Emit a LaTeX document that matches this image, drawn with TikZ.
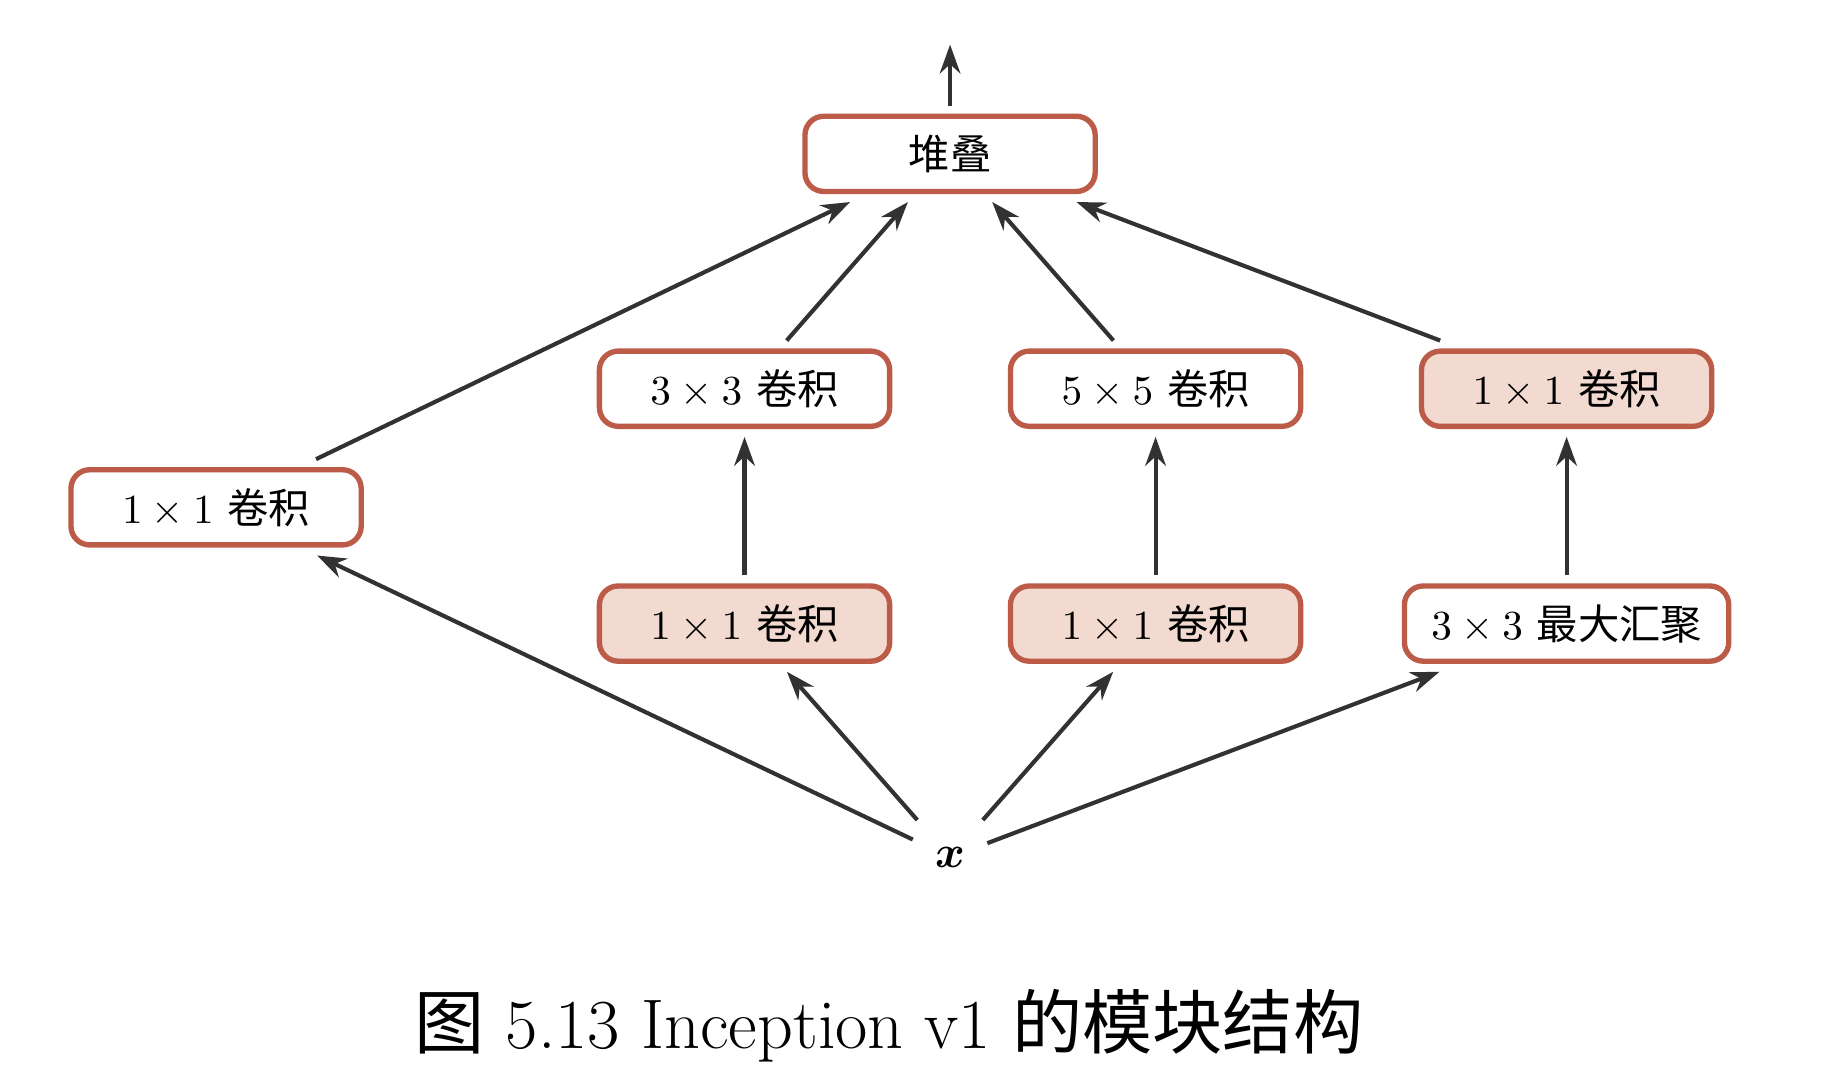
\documentclass[tikz,border=0pt]{standalone}
\usepackage{amsmath,amssymb,bm}
\usepackage{fontspec}
\usetikzlibrary{arrows.meta}
\newfontfamily\cjk{Noto Sans CJK SC}
\definecolor{bd}{RGB}{188,92,72}
\definecolor{fl}{RGB}{242,218,208}
\definecolor{ar}{RGB}{50,50,50}
\begin{document}
\begin{tikzpicture}[x=0.01cm,y=-0.01cm,
  box/.style={draw=bd,line width=1.3pt,rounded corners=0.16cm,minimum width=2.47cm,minimum height=0.64cm,inner sep=0pt,outer sep=0.09cm,font=\fontsize{10pt}{12pt}\selectfont},
  hl/.style={box,fill=fl},
  arr/.style={draw=ar,line width=1pt,-{Stealth[length=7pt,width=5pt]}}]
\useasboundingbox (0,0) rectangle (1560,927);
\node[box] (top) at (809,131) {\cjk 堆叠};
\coordinate (out) at (809,38);
\node[box] (l) at (184,432) {$1\times1$ {\cjk 卷积}};
\node[box] (a1) at (634,331) {$3\times3$ {\cjk 卷积}};
\node[box] (b1) at (984,331) {$5\times5$ {\cjk 卷积}};
\node[hl] (c1) at (1334,331) {$1\times1$ {\cjk 卷积}};
\node[hl] (a2) at (634,531) {$1\times1$ {\cjk 卷积}};
\node[hl] (b2) at (984,531) {$1\times1$ {\cjk 卷积}};
\node[box,minimum width=2.76cm] (c2) at (1334,531) {$3\times3$ {\cjk 最大汇聚}};
\node[minimum size=0.62cm,inner sep=0pt,font=\fontsize{11pt}{12pt}\selectfont] (x) at (809,730) {$\bm{x}$};
\node[font=\fontsize{17pt}{20pt}\selectfont] (cap) at (757,873) {{\cjk 图} 5.13 Inception v1 {\cjk 的模块结构}};
\draw[arr] (top) -- (out);
\foreach \n in {l,a1,b1,c1} \draw[arr] (\n) -- (top);
\draw[arr] (a2) -- (a1);
\draw[arr] (b2) -- (b1);
\draw[arr] (c2) -- (c1);
\foreach \n in {l,a2,b2,c2} \draw[arr] (x) -- (\n);
\end{tikzpicture}
\end{document}
